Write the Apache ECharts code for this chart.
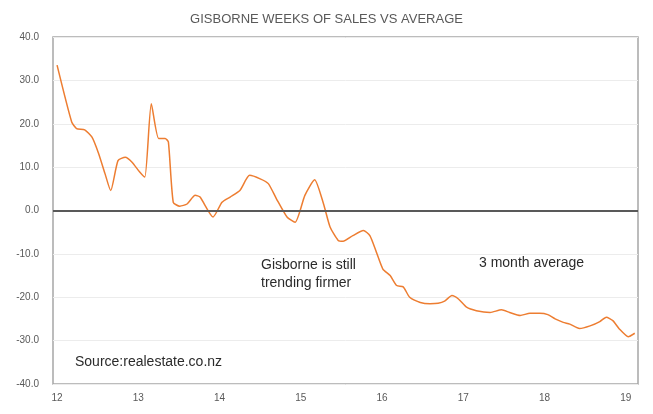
<!DOCTYPE html>
<html>
<head>
<meta charset="utf-8">
<script src="https://cdn.jsdelivr.net/npm/echarts@6/dist/echarts.min.js"></script>
<style>html,body{margin:0;padding:0;background:#fff}#c{width:653px;height:414px}</style>
</head>
<body>
<div id="c"></div>
<script>
// Dates as fractional years (12 = 2012)
var dates = [12.00,12.18,12.24,12.34,12.43,12.51,12.59,12.66,12.75,12.84,12.92,13.02,13.08,13.16,13.25,13.33,13.37,13.43,13.51,13.60,13.70,13.76,13.92,14.03,14.13,14.25,14.37,14.50,14.60,14.70,14.83,14.93,15.05,15.17,15.28,15.36,15.46,15.52,15.64,15.77,15.85,15.93,16.01,16.10,16.18,16.26,16.34,16.47,16.59,16.69,16.77,16.86,16.94,17.04,17.16,17.33,17.47,17.57,17.70,17.82,17.94,18.04,18.13,18.23,18.31,18.43,18.56,18.68,18.76,18.84,18.92,19.03,19.11];
var values = [33.5,20.4,18.9,18.6,16.9,13.2,8.5,4.6,11.5,12.3,11.2,8.8,7.7,24.6,16.6,16.6,15.8,1.9,1.0,1.5,3.5,3.1,-1.5,1.9,3.1,4.6,8.1,7.3,6.2,2.7,-1.5,-2.7,3.5,7.1,1.5,-3.8,-6.9,-7.1,-5.8,-4.6,-5.8,-9.6,-13.5,-15.0,-17.3,-17.6,-20.0,-21.2,-21.5,-21.4,-20.9,-19.6,-20.4,-22.3,-23.1,-23.5,-22.9,-23.5,-24.2,-23.7,-23.7,-24.0,-25.0,-25.8,-26.2,-27.2,-26.6,-25.6,-24.6,-25.4,-27.3,-29.1,-28.3];
var yearTicks = [12,13,14,15,16,17,18,19];
var titleText = 'GISBORNE WEEKS OF SALES VS AVERAGE';
var notes = ['Gisborne is still\ntrending firmer', '3 month average', 'Source:realestate.co.nz'];

var seriesData = dates.map(function(d,i){return [d, values[i]];});
var chart = echarts.init(document.getElementById('c'), null, {renderer:'canvas'});
var font = '"Liberation Sans", Arial, sans-serif';
chart.setOption({
  animation:false,
  backgroundColor:'#fff',
  title:{text:titleText,left:'center',top:8,textStyle:{fontFamily:font,fontSize:13,fontWeight:'normal',color:'#595959'}},
  grid:{left:53,right:15,top:37,bottom:30,show:true,borderColor:'#a6a6a6',borderWidth:1.5,backgroundColor:'transparent'},
  xAxis:{type:'value',min:11.95,max:19.15,
    axisLine:{show:false},axisTick:{show:false},splitLine:{show:false},
    axisLabel:{customValues:yearTicks,formatter:function(v){return String(Math.round(v));},color:'#595959',fontSize:10,fontFamily:font,margin:9}},
  yAxis:{type:'value',min:-40,max:40,interval:10,
    axisLine:{show:false},axisTick:{show:false},
    splitLine:{lineStyle:{color:'#ececec',width:1}},
    axisLabel:{formatter:function(v){return v.toFixed(1);},color:'#595959',fontSize:10,fontFamily:font,margin:14}},
  series:[{type:'line',data:seriesData,showSymbol:false,smooth:0.2,
    lineStyle:{color:'#ED7D31',width:1.5},
    markLine:{silent:true,symbol:'none',label:{show:false},lineStyle:{color:'#595959',width:2,type:'solid'},data:[{yAxis:0}]}}],
  graphic:[
    {type:'text',left:261,top:256,style:{text:notes[0],font:'14px '+font,fill:'#2b2b2b',lineHeight:18}},
    {type:'text',left:479,top:256,style:{text:notes[1],font:'14px '+font,fill:'#2b2b2b'}},
    {type:'text',left:75,top:355,style:{text:notes[2],font:'14px '+font,fill:'#2b2b2b'}}
  ]
});
</script>
</body>
</html>
